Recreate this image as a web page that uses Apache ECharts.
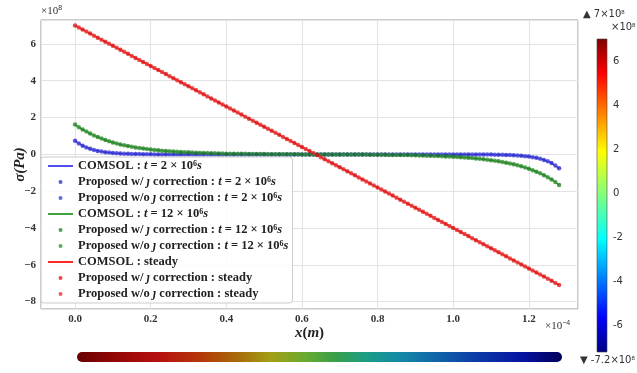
<!DOCTYPE html>
<html>
<head>
<meta charset="utf-8">
<script src="https://cdn.jsdelivr.net/npm/echarts@6/dist/echarts.min.js"></script>
<style>html,body{margin:0;padding:0;background:#fff}#chart{width:637px;height:373px}</style>
</head>
<body>
<div id="chart"></div>
<script>
// x in units of 1e-4 m, sigma in units of 1e8 Pa
const xs = [0, 0.02, 0.04, 0.06, 0.08, 0.10, 0.12, 0.14, 0.16, 0.18, 0.20, 0.22, 0.24, 0.26, 0.28, 0.30,
  0.32, 0.34, 0.36, 0.38, 0.40, 0.42, 0.44, 0.46, 0.48, 0.50, 0.52, 0.54, 0.56, 0.58, 0.60, 0.62, 0.64,
  0.66, 0.68, 0.70, 0.72, 0.74, 0.76, 0.78, 0.80, 0.82, 0.84, 0.86, 0.88, 0.90, 0.92, 0.94, 0.96, 0.98,
  1.00, 1.02, 1.04, 1.06, 1.08, 1.10, 1.12, 1.14, 1.16, 1.18, 1.20, 1.22, 1.24, 1.26, 1.28]

// second sample set (w/o correction)
const xsMid = [0.01, 0.03, 0.05, 0.07, 0.09, 0.11, 0.13, 0.15, 0.17, 0.19, 0.21, 0.23, 0.25, 0.27, 0.29,
  0.31, 0.33, 0.35, 0.37, 0.39, 0.41, 0.43, 0.45, 0.47, 0.49, 0.51, 0.53, 0.55, 0.57, 0.59, 0.61, 0.63,
  0.65, 0.67, 0.69, 0.71, 0.73, 0.75, 0.77, 0.79, 0.81, 0.83, 0.85, 0.87, 0.89, 0.91, 0.93, 0.95, 0.97,
  0.99, 1.01, 1.03, 1.05, 1.07, 1.09, 1.11, 1.13, 1.15, 1.17, 1.19, 1.21, 1.23, 1.25, 1.27]

const sigmaT2 = [0.74, 0.47, 0.30, 0.19, 0.12, 0.08, 0.05, 0.03, 0.02, 0.01, 0.006,
  0, 0, 0, 0, 0, 0, 0, 0, 0, 0, 0, 0, 0, 0, 0, 0, 0, 0, 0, 0, 0, 0, 0, 0, 0, 0, 0, 0, 0, 0, 0, 0, 0, 0,
  0, 0, 0, 0, 0, 0, 0, 0, 0,
  -0.006, -0.01, -0.02, -0.03, -0.05, -0.08, -0.12, -0.19, -0.30, -0.47, -0.76]
const sigmaT2Mid = [0.59, 0.38, 0.24, 0.15, 0.10, 0.06, 0.04, 0.025, 0.015, 0.008,
  0, 0, 0, 0, 0, 0, 0, 0, 0, 0, 0, 0, 0, 0, 0, 0, 0, 0, 0, 0, 0, 0, 0, 0, 0, 0, 0, 0, 0, 0, 0, 0, 0, 0,
  0, 0, 0, 0, 0, 0, 0, 0, 0, 0,
  -0.008, -0.015, -0.025, -0.04, -0.06, -0.10, -0.15, -0.24, -0.38, -0.60]

const sigmaT12 = [1.62, 1.35, 1.13, 0.94, 0.78, 0.65, 0.54, 0.45, 0.38, 0.32, 0.26, 0.22, 0.18, 0.15,
  0.13, 0.11, 0.09, 0.08, 0.06, 0.05, 0.04, 0.035, 0.03, 0.025, 0.02, 0.015, 0.01, 0.01, 0.005, 0.005,
  0, 0, 0, 0, 0,
  -0.005, -0.005, -0.01, -0.01, -0.015, -0.02, -0.025, -0.03, -0.035, -0.04, -0.05, -0.06, -0.08, -0.09,
  -0.11, -0.13, -0.15, -0.18, -0.22, -0.26, -0.32, -0.38, -0.45, -0.54, -0.65, -0.78, -0.94, -1.13, -1.36, -1.66]
const sigmaT12Mid = [1.48, 1.24, 1.03, 0.86, 0.71, 0.59, 0.49, 0.41, 0.35, 0.29, 0.24, 0.20, 0.165, 0.14,
  0.12, 0.10, 0.085, 0.07, 0.055, 0.045, 0.038, 0.032, 0.028, 0.022, 0.018, 0.012, 0.01, 0.008, 0.005, 0.003,
  0, 0, 0, 0,
  -0.003, -0.005, -0.008, -0.01, -0.012, -0.018, -0.022, -0.028, -0.032, -0.038, -0.045, -0.055, -0.07,
  -0.085, -0.10, -0.12, -0.14, -0.165, -0.20, -0.24, -0.29, -0.35, -0.41, -0.49, -0.59, -0.71, -0.86,
  -1.03, -1.24, -1.50]

const sigmaSteady = [7.00, 6.78, 6.56, 6.34, 6.12, 5.90, 5.68, 5.46, 5.24, 5.02, 4.80, 4.58, 4.36, 4.14,
  3.92, 3.70, 3.48, 3.26, 3.04, 2.82, 2.60, 2.38, 2.16, 1.94, 1.72, 1.50, 1.28, 1.06, 0.84, 0.62, 0.40,
  0.18, -0.04, -0.26, -0.48, -0.70, -0.92, -1.14, -1.36, -1.58, -1.80, -2.02, -2.24, -2.46, -2.68, -2.90,
  -3.12, -3.34, -3.56, -3.78, -4.00, -4.22, -4.44, -4.66, -4.88, -5.10, -5.32, -5.54, -5.76, -5.98, -6.20,
  -6.42, -6.64, -6.86, -7.10]
const sigmaSteadyMid = [6.89, 6.67, 6.45, 6.23, 6.01, 5.79, 5.57, 5.35, 5.13, 4.91, 4.69, 4.47, 4.25, 4.03,
  3.81, 3.59, 3.37, 3.15, 2.93, 2.71, 2.49, 2.27, 2.05, 1.83, 1.61, 1.39, 1.17, 0.95, 0.73, 0.51, 0.29,
  0.07, -0.15, -0.37, -0.59, -0.81, -1.03, -1.25, -1.47, -1.69, -1.91, -2.13, -2.35, -2.57, -2.79, -3.01,
  -3.23, -3.45, -3.67, -3.89, -4.11, -4.33, -4.55, -4.77, -4.99, -5.21, -5.43, -5.65, -5.87, -6.09, -6.31,
  -6.53, -6.75, -6.99]

const seriesNames = [
  'COMSOL : {i|t} = 2 × 10{sup|6}{i|s}',
  'Proposed w/ {i|ȷ} correction : {i|t} = 2 × 10{sup|6}{i|s}',
  'Proposed w/o {i|ȷ} correction : {i|t} = 2 × 10{sup|6}{i|s}',
  'COMSOL : {i|t} = 12 × 10{sup|6}{i|s}',
  'Proposed w/ {i|ȷ} correction : {i|t} = 12 × 10{sup|6}{i|s}',
  'Proposed w/o {i|ȷ} correction : {i|t} = 12 × 10{sup|6}{i|s}',
  'COMSOL : steady',
  'Proposed w/ {i|ȷ} correction : steady',
  'Proposed w/o {i|ȷ} correction : steady'
]

const colorbarMin = -7.2
const colorbarMax = 7

const serif = 'Liberation Serif'
const chart = echarts.init(document.getElementById('chart'))

const pairs = (xv, ys) => xv.map((x, i) => [x, ys[i]])
const minus = v => String(v).replace('-', '−')

const richText = {
  i: { fontStyle: 'italic' },
  sup: { fontSize: 8, verticalAlign: 'bottom', padding: [0, 0, 5, 0] }
}
const supStyle = size => ({ sup: { fontSize: size, verticalAlign: 'bottom', padding: [0, 0, 5, 0], fill: '#333' } })

function comsol(name, ys, color) {
  return { name, type: 'line', data: pairs(xs, ys), symbol: 'none',
    lineStyle: { color, width: 1.5 }, itemStyle: { color }, z: 2 }
}
function proposed(name, xv, ys, color) {
  return { name, type: 'scatter', data: pairs(xv, ys), symbolSize: 4.5,
    itemStyle: { color, opacity: 0.75 }, z: 3 }
}

chart.setOption({
  animation: false,
  grid: [
    { left: 41, right: 59, top: 20, bottom: 64, outerBoundsMode: 'none', containLabel: false,
      show: true, borderColor: '#999', borderWidth: 1 },
    { left: 597, width: 10, top: 39, height: 313, outerBoundsMode: 'none', containLabel: false,
      show: true, borderColor: '#444', borderWidth: 0.6,
      backgroundColor: new echarts.graphic.LinearGradient(0, 0, 0, 1, [
        { offset: 0, color: '#800000' }, { offset: 0.11, color: '#ff0000' },
        { offset: 0.36, color: '#ffff00' }, { offset: 0.5, color: '#80ff80' },
        { offset: 0.64, color: '#00ffff' }, { offset: 0.89, color: '#0000ff' },
        { offset: 1, color: '#000080' }
      ]) }
  ],
  xAxis: [
    { type: 'value', gridIndex: 0, min: -0.09, max: 1.33, splitNumber: 7,
      name: '{i|x}({i|m})', nameLocation: 'middle', nameGap: 17, nameMoveOverlap: false,
      nameTextStyle: { fontFamily: serif, fontSize: 15, fontWeight: 'bold', color: '#222', rich: { i: { fontStyle: 'italic' } } },
      axisLine: { show: false }, axisTick: { show: false },
      axisLabel: { showMinLabel: false, showMaxLabel: false, margin: 5, fontFamily: serif, fontWeight: 'bold',
        fontSize: 11, color: '#333', formatter: v => v.toFixed(1) },
      splitLine: { lineStyle: { color: '#e3e3e3' } } },
    { type: 'value', gridIndex: 1, show: false, min: 0, max: 1 }
  ],
  yAxis: [
    { type: 'value', gridIndex: 0, min: -8.4, max: 7.3, splitNumber: 8,
      name: 'σ({i|Pa})', nameLocation: 'middle', nameGap: 13, nameMoveOverlap: false,
      nameTextStyle: { fontFamily: serif, fontSize: 15, fontWeight: 'bold', fontStyle: 'italic', color: '#222', rich: { i: { fontStyle: 'italic' } } },
      axisLine: { show: false }, axisTick: { show: false },
      axisLabel: { showMinLabel: false, showMaxLabel: false, margin: 5, fontFamily: serif, fontWeight: 'bold',
        fontSize: 11, color: '#333', formatter: v => minus(v) },
      splitLine: { lineStyle: { color: '#e3e3e3' } } },
    { type: 'value', gridIndex: 1, min: colorbarMin, max: colorbarMax, splitNumber: 7, position: 'right',
      axisLine: { show: false }, axisTick: { show: false }, splitLine: { show: false },
      axisLabel: { showMinLabel: false, showMaxLabel: false, margin: 6, fontFamily: 'DejaVu Sans',
        fontSize: 10, color: '#333' } }
  ],
  legend: {
    orient: 'vertical', left: 41, top: 157, padding: [2, 4, 2, 6],
    itemWidth: 25, itemHeight: 4, itemGap: 2,
    backgroundColor: 'rgba(255,255,255,0.85)', borderColor: '#ccc', borderWidth: 1, borderRadius: 3,
    formatter: name => name,
    textStyle: { fontFamily: serif, fontSize: 12.5, fontWeight: 'bold', color: '#222', lineHeight: 14, rich: richText },
    data: seriesNames.map(name => name.startsWith('COMSOL')
      ? { name, itemStyle: { color: 'rgba(0,0,0,0)', borderWidth: 0 } }
      : { name })
  },
  series: [
    comsol(seriesNames[0], sigmaT2, '#5050f0'),
    proposed(seriesNames[1], xs, sigmaT2, '#2424c8'),
    proposed(seriesNames[2], xsMid, sigmaT2Mid, '#3434d4'),
    comsol(seriesNames[3], sigmaT12, '#40a040'),
    proposed(seriesNames[4], xs, sigmaT12, '#1e7e1e'),
    proposed(seriesNames[5], xsMid, sigmaT12Mid, '#2a8c2a'),
    comsol(seriesNames[6], sigmaSteady, '#ff2828'),
    proposed(seriesNames[7], xs, sigmaSteady, '#d81010'),
    proposed(seriesNames[8], xsMid, sigmaSteadyMid, '#e42626')
  ],
  graphic: [
    { type: 'text', left: 41, top: 5, style: { text: '×10{sup|8}', fontFamily: serif, fontSize: 11,
      fill: '#333', rich: supStyle(7) } },
    { type: 'text', left: 545, top: 320, style: { text: '×10{sup|−4}', fontFamily: serif, fontSize: 11,
      fill: '#333', rich: supStyle(7) } },
    { type: 'text', left: 583, top: 9, style: { text: '▲ 7×10{sup|8}', fontFamily: 'DejaVu Sans', fontSize: 10,
      fill: '#333', rich: supStyle(6) } },
    { type: 'text', left: 611, top: 22, style: { text: '×10{sup|8}', fontFamily: 'DejaVu Sans', fontSize: 10,
      fill: '#333', rich: supStyle(6) } },
    { type: 'text', left: 580, top: 355, style: { text: '▼ -7.2×10{sup|8}', fontFamily: 'DejaVu Sans', fontSize: 10,
      fill: '#333', rich: supStyle(6) } },
    { type: 'rect', shape: { x: 77, y: 352, width: 485, height: 10, r: 5 },
      style: { fill: new echarts.graphic.LinearGradient(0, 0, 1, 0, [
        { offset: 0, color: '#680000' }, { offset: 0.08, color: '#940606' }, { offset: 0.17, color: '#b81010' },
        { offset: 0.26, color: '#b43a08' }, { offset: 0.33, color: '#a86a0a' }, { offset: 0.40, color: '#a2a014' },
        { offset: 0.47, color: '#6aaa30' }, { offset: 0.53, color: '#3aa048' }, { offset: 0.60, color: '#1a9c88' },
        { offset: 0.67, color: '#1488a8' }, { offset: 0.75, color: '#1060a8' }, { offset: 0.83, color: '#0c38a8' },
        { offset: 0.92, color: '#0612a0' }, { offset: 1, color: '#000058' }
      ]) } }
  ]
})
</script>
</body>
</html>
